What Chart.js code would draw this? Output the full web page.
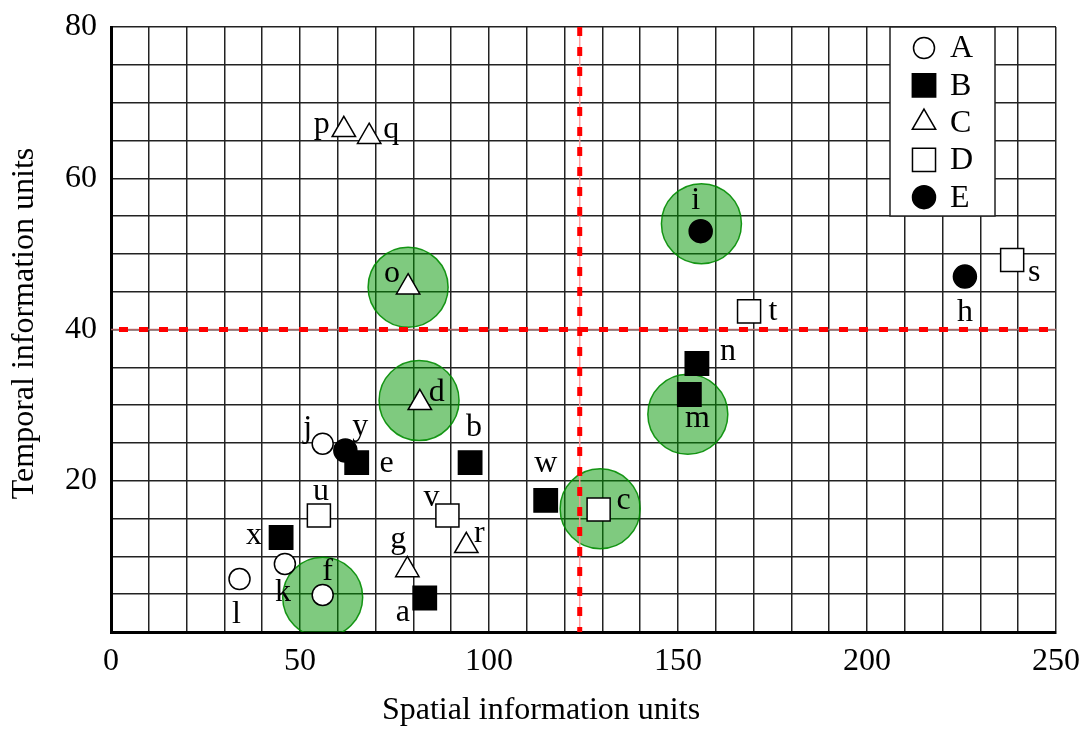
<!DOCTYPE html>
<html>
<head>
<meta charset="utf-8">
<script src="https://cdn.jsdelivr.net/npm/chart.js@4/dist/chart.umd.min.js"></script>
<style>
  html, body { margin: 0; padding: 0; background: #fff; }
  #wrap { width: 1085px; height: 729px; }
</style>
</head>
<body>
<div id="wrap"><canvas id="chart" width="1085" height="729"></canvas></div>
<script>
// =======================
// Data
// =======================
const seriesNames = ["A", "B", "C", "D", "E"];

const labelsA = ["f", "j", "k", "l"];
const spatialA = [56, 56, 46, 34];
const temporalA = [4.9, 24.9, 9.0, 7.0];

const labelsB = ["a", "b", "e", "m", "n", "w", "x"];
const spatialB = [83, 95, 65, 153, 155, 115, 45];
const temporalB = [4.5, 22.4, 22.4, 31.4, 35.5, 17.4, 12.5];

const labelsC = ["d", "g", "o", "p", "q", "r"];
const spatialC = [81.7, 78.4, 78.6, 61.6, 68.3, 94];
const temporalC = [30.3, 8.2, 45.6, 66.4, 65.5, 11.4];

const labelsD = ["c", "s", "t", "u", "v"];
const spatialD = [129, 238.4, 168.8, 55, 89];
const temporalD = [16.2, 49.2, 42.4, 15.4, 15.4];

const labelsE = ["h", "i", "y"];
const spatialE = [225.9, 156, 62];
const temporalE = [47.0, 53.0, 24.0];

// green highlight circles
const highlightSpatial = [156.2, 78.6, 81.5, 152.6, 129.4, 56];
const highlightTemporal = [54.0, 45.6, 30.6, 28.8, 16.3, 4.6];

// red threshold lines
const spatialThreshold = 124;
const temporalThreshold = 40;

// axis ranges / ticks
const xMin = 0, xMax = 250, xGridStep = 10, xLabelStep = 50;
const yMin = 0, yMax = 80, yGridStep = 5, yLabelStep = 20;

// =======================
// Styles
// =======================
const FONT = "'Liberation Serif', 'Times New Roman', serif";
const FONT_SIZE = 32;

const markerStyles = {
  A: { pointStyle: "circle", radius: 10.5, bg: "#ffffff" },
  B: { pointStyle: "rect", radius: 16.5, bg: "#000000" },
  C: { pointStyle: "triangle", radius: 13.5, bg: "#ffffff" },
  D: { pointStyle: "rect", radius: 16.3, bg: "#ffffff" },
  E: { pointStyle: "circle", radius: 11.5, bg: "#000000" }
};

// label offsets in pixels from the marker centre
const labelOffset = {
  a: [-22, 15], b: [4, -35], c: [25, -9], d: [17, -10], e: [30, 1],
  f: [5, -23], g: [-9, -30], h: [0, 36], i: [-5, -31], j: [-15, -15],
  k: [-2, 29], l: [-3, 36], m: [8, 24], n: [31, -12], o: [-16, -14],
  p: [-22, -5], q: [22, -7], r: [13, -12], s: [22, 13], t: [24, 0],
  u: [2, -24], v: [-16, -18], w: [0, -37], x: [-27, -2], y: [15, -24]
};

function toPoints(xs, ys) {
  return xs.map((x, i) => ({ x: x, y: ys[i] }));
}

const seriesData = {
  A: { labels: labelsA, points: toPoints(spatialA, temporalA) },
  B: { labels: labelsB, points: toPoints(spatialB, temporalB) },
  C: { labels: labelsC, points: toPoints(spatialC, temporalC) },
  D: { labels: labelsD, points: toPoints(spatialD, temporalD) },
  E: { labels: labelsE, points: toPoints(spatialE, temporalE) }
};

const datasets = seriesNames.map(name => {
  const st = markerStyles[name];
  return {
    label: name,
    pointLabels: seriesData[name].labels,
    data: seriesData[name].points,
    pointStyle: st.pointStyle,
    pointRadius: st.radius,
    pointHoverRadius: st.radius,
    backgroundColor: st.bg,
    borderColor: "#000000",
    borderWidth: 1.5,
    order: 0
  };
});

const HIGHLIGHT_INDEX = datasets.length;
datasets.push({
  label: "highlight",
  data: toPoints(highlightSpatial, highlightTemporal),
  pointStyle: "circle",
  pointRadius: 40,
  pointHoverRadius: 40,
  backgroundColor: "rgba(0, 150, 0, 0.5)",
  borderColor: "rgba(0, 140, 0, 0.9)",
  borderWidth: 1.5,
  order: 1
});

// =======================
// Plugins
// =======================
const thresholdLines = {
  id: "thresholdLines",
  afterDatasetDraw(chart, args) {
    if (args.index !== HIGHLIGHT_INDEX) return;
    const { ctx, chartArea: a, scales } = chart;
    const px = scales.x.getPixelForValue(spatialThreshold);
    const py = scales.y.getPixelForValue(temporalThreshold);
    ctx.save();
    // thin underlay
    ctx.lineWidth = 1.5;
    ctx.strokeStyle = "rgba(255, 150, 150, 0.9)";
    ctx.beginPath(); ctx.moveTo(px, a.top); ctx.lineTo(px, a.bottom); ctx.stroke();
    ctx.strokeStyle = "rgba(185, 110, 110, 0.9)";
    ctx.beginPath(); ctx.moveTo(a.left, py); ctx.lineTo(a.right, py); ctx.stroke();
    // dashes
    ctx.lineWidth = 5;
    ctx.strokeStyle = "#ff0000";
    ctx.setLineDash([9, 11]);
    ctx.beginPath(); ctx.moveTo(px, a.top); ctx.lineTo(px, a.bottom); ctx.stroke();
    ctx.lineDashOffset = -8;
    ctx.beginPath(); ctx.moveTo(a.left, py); ctx.lineTo(a.right, py); ctx.stroke();
    ctx.restore();
  }
};

const pointLetters = {
  id: "pointLetters",
  afterDatasetsDraw(chart) {
    const ctx = chart.ctx;
    ctx.save();
    ctx.font = FONT_SIZE + "px " + FONT;
    ctx.fillStyle = "#000";
    ctx.textAlign = "center";
    ctx.textBaseline = "middle";
    chart.data.datasets.forEach((ds, di) => {
      if (!ds.pointLabels) return;
      const meta = chart.getDatasetMeta(di);
      meta.data.forEach((el, i) => {
        const name = ds.pointLabels[i];
        const off = labelOffset[name] || [0, -25];
        ctx.fillText(name, el.x + off[0], el.y + off[1]);
      });
    });
    ctx.restore();
  }
};

function drawMarker(ctx, st, x, y) {
  ctx.fillStyle = st.bg;
  ctx.strokeStyle = "#000";
  ctx.lineWidth = 1.5;
  const opts = { pointStyle: st.pointStyle, radius: st.radius, rotation: 0, borderWidth: 1.5 };
  if (Chart.helpers && Chart.helpers.drawPoint) {
    Chart.helpers.drawPoint(ctx, opts, x, y);
    return;
  }
  ctx.beginPath();
  if (st.pointStyle === "circle") {
    ctx.arc(x, y, st.radius, 0, Math.PI * 2);
  } else if (st.pointStyle === "rect") {
    const h = st.radius * Math.SQRT1_2;
    ctx.rect(x - h, y - h, 2 * h, 2 * h);
  } else {
    const r = st.radius;
    ctx.moveTo(x, y - r);
    ctx.lineTo(x + r * Math.sin(2 * Math.PI / 3), y + r / 2);
    ctx.lineTo(x - r * Math.sin(2 * Math.PI / 3), y + r / 2);
    ctx.closePath();
  }
  ctx.fill();
  ctx.stroke();
}

const boxLegend = {
  id: "boxLegend",
  afterDraw(chart) {
    const { ctx, chartArea: a } = chart;
    const left = a.right - 166, top = a.top, w = 105, h = 189;
    ctx.save();
    ctx.fillStyle = "#fff";
    ctx.fillRect(left, top, w, h);
    ctx.strokeStyle = "#222";
    ctx.lineWidth = 1.5;
    ctx.strokeRect(left, top, w, h);
    ctx.font = FONT_SIZE + "px " + FONT;
    ctx.textBaseline = "middle";
    ctx.textAlign = "left";
    seriesNames.forEach((name, i) => {
      const cy = top + 21 + i * 37.3;
      drawMarker(ctx, markerStyles[name], left + 34, cy);
      ctx.fillStyle = "#000";
      ctx.fillText(name, left + 60, cy + 1);
    });
    ctx.restore();
  }
};

const axisTitles = {
  id: "axisTitles",
  afterDraw(chart) {
    const { ctx, chartArea: a } = chart;
    ctx.save();
    ctx.font = FONT_SIZE + "px " + FONT;
    ctx.fillStyle = "#000";
    ctx.textBaseline = "alphabetic";
    ctx.textAlign = "center";
    ctx.fillText("Spatial information units", a.left + 430, 719);
    ctx.translate(33, (a.top + a.bottom) / 2 - 6);
    ctx.rotate(-Math.PI / 2);
    ctx.fillText("Temporal information units", 0, 0);
    ctx.restore();
  }
};

// =======================
// Chart
// =======================
const ctx = document.getElementById("chart").getContext("2d");
new Chart(ctx, {
  type: "scatter",
  data: { datasets: datasets },
  options: {
    responsive: false,
    animation: false,
    events: [],
    layout: { autoPadding: false, padding: { top: 27, right: 29, left: 0, bottom: 0 } },
    plugins: {
      legend: { display: false },
      tooltip: { enabled: false }
    },
    scales: {
      x: {
        type: "linear",
        min: xMin,
        max: xMax,
        afterFit(scale) {
          scale.height = 97;
          scale.paddingLeft = 0;
          scale.paddingRight = 0;
        },
        ticks: {
          stepSize: xGridStep,
          autoSkip: false,
          maxRotation: 0,
          padding: 10,
          color: "#000",
          font: { family: FONT, size: FONT_SIZE },
          callback: v => (v % xLabelStep === 0 ? String(v) : "")
        },
        grid: { color: "#222", lineWidth: 1.5, drawTicks: false },
        border: { display: true, color: "#000", width: 3 }
      },
      y: {
        type: "linear",
        min: yMin,
        max: yMax,
        afterFit(scale) {
          scale.width = 111;
          scale.paddingTop = 0;
          scale.paddingBottom = 0;
        },
        ticks: {
          stepSize: yGridStep,
          autoSkip: false,
          padding: 14,
          color: "#000",
          font: { family: FONT, size: FONT_SIZE },
          callback: v => (v % yLabelStep === 0 && v !== 0 ? String(v) : "")
        },
        grid: { color: "#222", lineWidth: 1.5, drawTicks: false },
        border: { display: true, color: "#000", width: 3 }
      }
    }
  },
  plugins: [thresholdLines, pointLetters, boxLegend, axisTitles]
});
</script>
</body>
</html>
